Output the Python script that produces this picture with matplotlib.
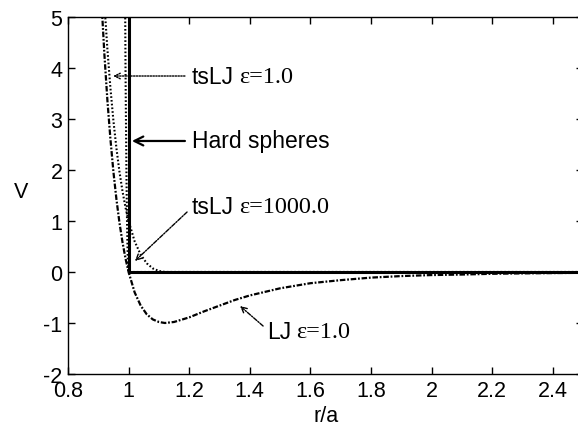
import matplotlib
matplotlib.use("Agg")
import matplotlib.pyplot as plt

plt.rcParams["axes.unicode_minus"] = False

# ---- data ----
lj_r = [0.90, 0.91, 0.92, 0.93, 0.94, 0.95, 0.96, 0.97, 0.98, 0.99, 1.00,
        1.02, 1.04, 1.06, 1.08, 1.10, 1.12, 1.15, 1.20, 1.25, 1.30, 1.35,
        1.40, 1.50, 1.60, 1.70, 1.80, 1.90, 2.00, 2.10, 2.20, 2.30, 2.40, 2.50]
lj_v = [6.64, 5.36, 4.28, 3.37, 2.61, 1.96, 1.42, 0.96, 0.58, 0.26, 0.00,
        -0.40, -0.66, -0.83, -0.93, -0.98, -1.00, -0.98, -0.89, -0.77, -0.66, -0.55,
        -0.46, -0.32, -0.22, -0.16, -0.11, -0.08, -0.06, -0.05, -0.035, -0.027, -0.021, -0.016]

ts1_r = [0.91, 0.92, 0.93, 0.94, 0.95, 0.96, 0.97, 0.98, 0.99, 1.00,
         1.02, 1.04, 1.06, 1.08, 1.10, 1.12, 2.50]
ts1_v = [6.36, 5.28, 4.37, 3.61, 2.96, 2.42, 1.96, 1.58, 1.26, 1.00,
         0.60, 0.34, 0.17, 0.07, 0.02, 0.00, 0.00]

ts1000_r = [0.985, 0.990, 0.993, 0.995, 0.997, 0.999, 1.000, 2.50]
ts1000_v = [9.0, 3.86, 1.86, 0.93, 0.33, 0.036, 0.0, 0.0]

hs_r = [1.0, 1.0, 2.5]
hs_v = [10.0, 0.0, 0.0]

x_ticks = [0.8, 1, 1.2, 1.4, 1.6, 1.8, 2, 2.2, 2.4]
x_tick_labels = ["0.8", "1", "1.2", "1.4", "1.6", "1.8", "2", "2.2", "2.4"]
y_ticks = [-2, -1, 0, 1, 2, 3, 4, 5]

SANS = "Liberation Sans"
SERIF = "Liberation Serif"
plt.rcParams["font.family"] = [SANS, "DejaVu Sans"]

fig = plt.figure(figsize=(5.78, 4.27), dpi=100)
ax = fig.add_axes([68 / 578, 1 - 375 / 427, 515 / 578, 357 / 427])

ax.plot(lj_r, lj_v, color="black", lw=1.6, linestyle=(0, (2.5, 0.8, 0.8, 0.8)))
ax.plot(ts1_r, ts1_v, color="black", lw=1.5, linestyle=(0, (0.8, 1.0)))
ax.plot(ts1000_r, ts1000_v, color="black", lw=1.5, linestyle=(0, (0.8, 1.0)))
ax.plot(hs_r, hs_v, color="black", lw=2.2, solid_joinstyle="miter")

ax.set_xlim(0.8, 2.5)
ax.set_ylim(-2, 5)
ax.set_xticks(x_ticks)
ax.set_xticklabels(x_tick_labels)
ax.set_yticks(y_ticks)
ax.tick_params(direction="in", length=5, width=1, top=True, right=True,
               labelsize=15.5, pad=4)
for s in ax.spines.values():
    s.set_linewidth(1)

ax.set_xlabel("r/a", fontsize=15.5, va="top")
ax.xaxis.set_label_coords((326 - 68) / 515, (375 - 406) / 357)
ax.set_ylabel("V", fontsize=15.5, rotation=0, va="center", ha="center")
ax.yaxis.set_label_coords((21 - 68) / 515, (375 - 193) / 357)

# arrows
ax.annotate("", xy=(0.949, 3.843), xytext=(1.186, 3.843),
            arrowprops=dict(arrowstyle="->", lw=1.0, linestyle=(0, (1, 1)), color="black",
                            shrinkA=0, shrinkB=0))
ax.annotate("", xy=(1.011, 2.569), xytext=(1.186, 2.569),
            arrowprops=dict(arrowstyle="->", lw=1.6, color="black", shrinkA=0, shrinkB=0,
                            mutation_scale=16))
ax.annotate("", xy=(1.021, 0.216), xytext=(1.193, 1.176),
            arrowprops=dict(arrowstyle="->", lw=1.0, linestyle=(0, (3, 1, 1, 1)), color="black",
                            shrinkA=0, shrinkB=0))
ax.annotate("", xy=(1.368, -0.667), xytext=(1.444, -1.059),
            arrowprops=dict(arrowstyle="->", lw=1.0, linestyle=(0, (3, 1, 1, 1)), color="black",
                            shrinkA=0, shrinkB=0))

# labels with mixed fonts
labels = [
    (1.209, 3.843, "tsLJ", "\u03b5=1.0"),
    (1.209, 2.569, "Hard spheres", None),
    (1.209, 1.275, "tsLJ", "\u03b5=1000.0"),
    (1.457, -1.157, "LJ", "\u03b5=1.0"),
]
fig.canvas.draw()
renderer = fig.canvas.get_renderer()
for x, y, a, b in labels:
    t = ax.text(x, y, a, fontsize=16.5, ha="left", va="center")
    if b:
        bb = t.get_window_extent(renderer=renderer)
        x2_pix = bb.x1 + 5
        x2 = ax.transData.inverted().transform((x2_pix, 0))[0]
        ax.text(x2, y, b, fontsize=17.5, fontfamily=SERIF, ha="left", va="center")

fig.savefig("out.png", dpi=100)
